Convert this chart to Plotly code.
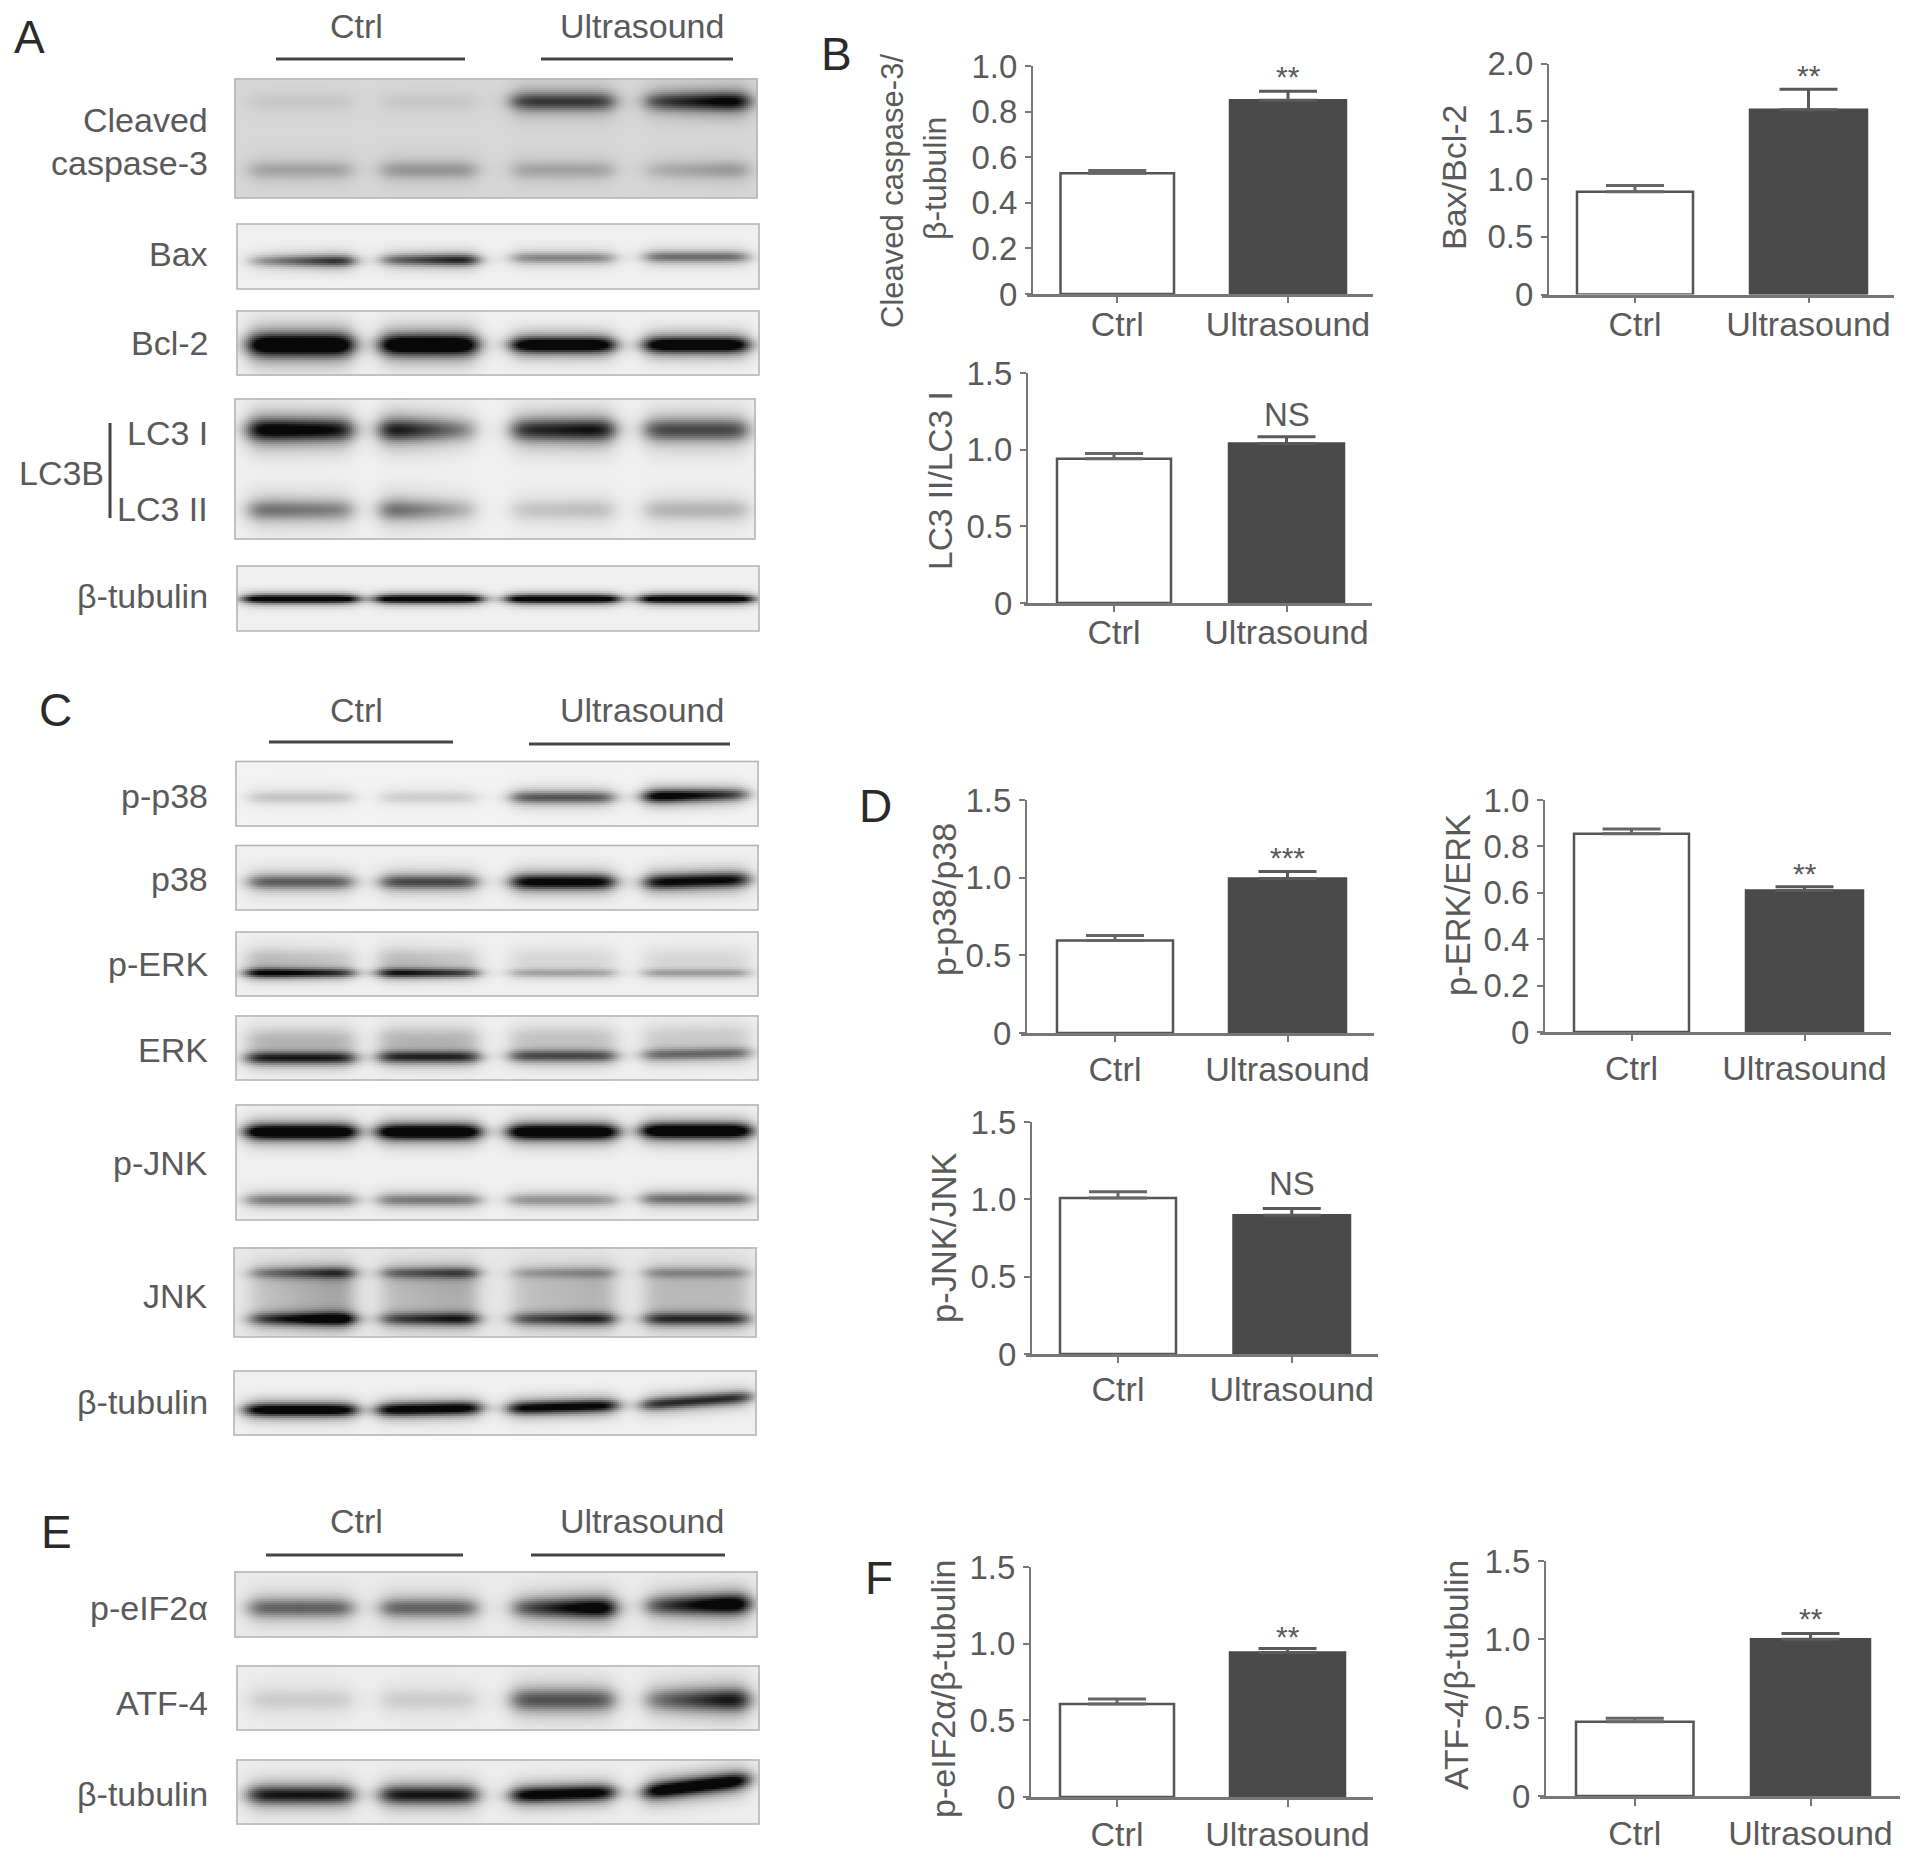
import numpy as np
import plotly.graph_objects as go

W, H = 1913, 1858
FONT = "Liberation Sans"
TXT = "#5a5a5a"

# ---------- bar chart data ----------
groups = ["Ctrl", "Ultrasound"]
panel_titles = [["Cleaved caspase-3/", "β-tubulin"], ["Bax/Bcl-2"], ["LC3 II/LC3 I"],
                ["p-p38/p38"], ["p-ERK/ERK"], ["p-JNK/JNK"],
                ["p-eIF2α/β-tubulin"], ["ATF-4/β-tubulin"]]
ctrl_values = [0.53, 0.89, 0.94, 0.595, 0.855, 1.008, 0.606, 0.474]
ultra_values = [0.85, 1.60, 1.04, 0.995, 0.61, 0.897, 0.942, 1.00]
ctrl_err = [0.012, 0.053, 0.035, 0.033, 0.02, 0.041, 0.033, 0.023]
ultra_err = [0.039, 0.177, 0.044, 0.045, 0.016, 0.043, 0.026, 0.037]
y_max = [1.0, 2.0, 1.5, 1.5, 1.0, 1.5, 1.5, 1.5]
y_ticks = [[0, 0.2, 0.4, 0.6, 0.8, 1.0], [0, 0.5, 1.0, 1.5, 2.0], [0, 0.5, 1.0, 1.5],
           [0, 0.5, 1.0, 1.5], [0, 0.2, 0.4, 0.6, 0.8, 1.0], [0, 0.5, 1.0, 1.5],
           [0, 0.5, 1.0, 1.5], [0, 0.5, 1.0, 1.5]]
significance = ["**", "**", "NS", "***", "**", "NS", "**", "**"]

# panel geometry in page pixels: axis x, x-line start, x-line end, top, zero, ctrl bar, ultra bar
panel_geom = [
    (1032, 1027, 1373, 66, 294, (1060.5, 1174), (1230, 1346)),
    (1548, 1542, 1894, 63.5, 294.5, (1577, 1693), (1750, 1867)),
    (1027, 1024, 1372, 373, 603, (1057, 1171), (1229, 1344)),
    (1026, 1021, 1374, 800, 1033, (1057, 1173), (1229, 1346)),
    (1544, 1539.5, 1891, 800, 1032, (1574, 1689), (1746, 1863)),
    (1031, 1026, 1378, 1122, 1354, (1060, 1176), (1233.5, 1350)),
    (1030, 1026, 1373, 1567, 1797, (1060, 1174), (1230, 1345)),
    (1545, 1539.5, 1899.5, 1561, 1796, (1576, 1693.5), (1751, 1870)),
]
x_tick_len = [6, 6, 6, 6, 6, 6, 7, 7]
x_label_standoff = [-8, -8, -9, -2, -2, -3, -2, -2]
title_geom = [[(892, 191), (935, 179)], [(1454, 177)], [(940, 481)], [(944, 900)],
              [(1458, 905)], [(944, 1238)], [(943, 1689)], [(1456, 1675)]]
title_size = [[31, 32], [34], [33.5], [34], [34.5], [34.5], [34], [33.7]]
sig_y = [76, 75, 414, 857, 874, 1183, 1636, 1618]

# ---------- western blot data ----------
blot_labels = ["Cleaved caspase-3", "Bax", "Bcl-2", "LC3B", "β-tubulin",
               "p-p38", "p38", "p-ERK", "ERK", "p-JNK", "JNK", "β-tubulin",
               "p-eIF2α", "ATF-4", "β-tubulin"]
# box: left, top, right, bottom
blot_boxes = [(235, 79, 757, 198), (237, 224, 759, 289), (237, 311, 759, 375),
              (235, 399, 755, 539), (237, 566, 759, 631),
              (236, 761.5, 758, 826), (236, 845.6, 758, 910), (236, 932, 758, 996),
              (236, 1016, 758, 1080), (236, 1105, 758, 1220), (234, 1248, 756, 1337),
              (234, 1371, 756, 1435),
              (235, 1572, 757, 1637), (237, 1666, 759, 1730), (237, 1760, 759, 1824)]
blot_background = [0.12, 0.02, 0.02, 0.02, 0.02, 0.01, 0.02, 0.02, 0.02, 0.02, 0.05, 0.02, 0.04, 0.03, 0.03]
# per band: darkness in the four lanes
blot_band_darkness = [
    [[0.05, 0.05, 0.5, 0.6], [0.16, 0.2, 0.16, 0.16]],
    [[0.46, 0.56, 0.32, 0.4]],
    [[1.0, 1.0, 0.95, 0.95]],
    [[0.78, 0.52, 0.66, 0.52], [0.36, 0.3, 0.14, 0.18]],
    [[0.92, 0.92, 0.92, 0.92]],
    [[0.14, 0.11, 0.48, 0.72]],
    [[0.45, 0.52, 0.8, 0.76]],
    [[0.7, 0.62, 0.22, 0.24], [0.13, 0.13, 0.07, 0.07]],
    [[0.65, 0.62, 0.5, 0.4], [0.16, 0.16, 0.12, 0.1]],
    [[1.0, 1.0, 1.0, 1.0], [0.36, 0.36, 0.28, 0.4]],
    [[0.42, 0.42, 0.22, 0.24], [0.72, 0.56, 0.52, 0.56], [0.16, 0.16, 0.14, 0.14]],
    [[0.88, 0.85, 0.8, 0.62]],
    [[0.42, 0.42, 0.68, 0.72]],
    [[0.1, 0.1, 0.48, 0.55]],
    [[0.68, 0.68, 0.82, 0.9]],
]
# per band: vertical centre below the box top, vertical spread
blot_band_y = [[(22.6, 8), (91, 8)], [(35, 5)], [(34, 8.5)], [(31, 10), (111, 9.5)], [(33, 3.5)],
               [(35.5, 5.5)], [(36, 6.5)], [(41, 4), (26, 9)], [(41, 5.5), (22, 10)],
               [(27, 6.5), (95, 5.5)], [(25, 5), (71, 5.5), (45, 20)], [(39, 5.5)],
               [(36, 8.5)], [(34, 10)], [(35, 8)]]
# vertical drift of each lane
blot_lane_drift = [[0, 0, 0, 0], [2, 1, -1, -2], [0, 0, 0, 0], [0, 0, 0, 0], [0, 0, 0, 0],
                   [0, 0, 0, -2], [0, 0, 0, -1], [0, 0, 0, 0], [1, 0, -1, -3], [0, 0, 0, -1],
                   [0, 0, 0, 0], [0, -1, -3, -9], [0, 0, 0, -3], [0, 0, 0, 0], [0, 0, -1, -9]]
# left-to-right darkening inside each lane
blot_lane_fade = [[0, 0, 0, 0.3], [0.5, 0.3, 0, 0], [0, 0, 0, 0], [-0.1, -0.5, 0.1, 0], [0, 0, 0, 0],
                  [0, 0, 0, -0.3], [0, 0, 0, 0], [-0.2, -0.2, 0, 0], [0, 0, 0, 0], [0, 0, 0, 0],
                  [0.4, 0.2, 0.2, 0], [0, 0, 0, 0], [0, 0, 0.4, 0.4], [0, 0, 0, 0.4], [0, 0, 0, 0]]
# rise of a band across its lane
blot_lane_slant = [[0, 0, 0, 0], [0, 0, 0, 0], [0, 0, 0, 0], [0, 0, 0, 0], [0, 0, 0, 0],
                   [0, 0, 0, 2], [0, 0, 0, 3], [0, 0, 0, 0], [0, 0, 0, 2], [0, 0, 0, 0],
                   [0, 0, 0, 0], [0, 2, 3, 8], [0, 0, 0, 2], [0, 0, 0, 0], [0, 0, 3, 12]]
# thickness factor per lane
blot_lane_thick = [[1, 1, 1, 1], [1, 1, 1, 1], [1.15, 1.05, 0.8, 0.8], [1, 1, 1, 1], [1, 1, 1, 1],
                   [1, 1, 1, 1], [1, 1, 1, 1], [1, 1, 1, 1], [1, 1, 1, 1], [1, 1, 1, 1],
                   [1, 1, 1, 1], [1, 1, 1, 1], [1, 1, 1, 1], [1, 1, 1, 1], [1, 1, 0.85, 0.9]]
blot_lane_widen = [0, 0, 0, 0, 5, 0, 0, 2, 2, 3, 0, 3, 0, 0, 0]
lane_spans = [(250, 352), (382, 476), (513, 613), (646, 747)]

headers_y = [26, 710, 1521]
header_lines = [[(276, 465, 59), (541, 733, 59)], [(269, 453, 742), (529, 730, 744)],
                [(266, 463, 1555), (531, 725, 1555)]]
side_labels = [("Cleaved", 120.5), ("caspase-3", 163), ("Bax", 254), ("Bcl-2", 343),
               ("LC3 I", 433), ("LC3 II", 509), ("β-tubulin", 596.5),
               ("p-p38", 795.5), ("p38", 879), ("p-ERK", 964), ("ERK", 1050), ("p-JNK", 1163),
               ("JNK", 1295.5), ("β-tubulin", 1401.5), ("p-eIF2α", 1608), ("ATF-4", 1703), ("β-tubulin", 1794)]
panel_letters = [("A", 29, 37), ("B", 836, 54), ("C", 55, 710), ("D", 875, 806), ("E", 56, 1532), ("F", 879, 1578)]

fig = go.Figure()
shapes, annos = [], []


def fx(px):
    return px / W


def fy(py):
    return 1 - py / H


def text(t, px, py, size=34, xa="center", color=TXT, angle=0):
    annos.append(dict(text=t, xref="paper", yref="paper", x=fx(px), y=fy(py), xanchor=xa, yanchor="middle",
                      showarrow=False, textangle=angle, font=dict(family=FONT, size=size, color=color)))


def blot_image(i):
    l, t, r, b = blot_boxes[i]
    xs = np.arange(l, r + 1, 2.0)
    ys = np.arange(t, b + 1, 2.0)
    gx, gy = np.meshgrid(xs, ys)
    z = np.full(gx.shape, blot_background[i], dtype=float)
    wid = blot_lane_widen[i]
    for dark, (yc, sp) in zip(blot_band_darkness[i], blot_band_y[i]):
        for k, (x0, x1) in enumerate(lane_spans):
            x0, x1 = x0 - wid, x1 + wid
            mid, half = (x0 + x1) / 2, (x1 - x0) / 2
            rel = (gx - mid) / half
            hor = 0.5 * (np.tanh((gx - x0) / 11) - np.tanh((gx - x1) / 11))
            s = sp * blot_lane_thick[i][k]
            dy = gy - t - yc - blot_lane_drift[i][k] + rel * blot_lane_slant[i][k] / 2
            ver = 0.72 * np.exp(-((dy / s) ** 2)) + 0.38 * np.exp(-((dy / (2.1 * s)) ** 2))
            fade = 1 + blot_lane_fade[i][k] * np.clip(rel, -1.2, 1.2)
            z += dark[k] * 1.25 * ver * hor * fade
    return xs, ys, np.round(np.clip(z, 0, 1), 3)


for i in range(len(blot_boxes)):
    xs, ys, z = blot_image(i)
    fig.add_trace(go.Heatmap(x=xs, y=ys, z=z, xaxis="x", yaxis="y", zmin=0, zmax=1, showscale=False,
                             hoverinfo="skip", colorscale=[[0, "#f5f5f5"], [0.5, "#7a7a7a"], [1, "#080808"]]))
    l, t, r, b = blot_boxes[i]
    shapes.append(dict(type="rect", xref="x", yref="y", x0=l, x1=r, y0=t, y1=b,
                       line=dict(color="#b4b4b4", width=1.5)))

layout_axes = dict(
    xaxis=dict(domain=[0, 1], range=[0, W], visible=False, fixedrange=True, automargin=False),
    yaxis=dict(domain=[0, 1], range=[H, 0], visible=False, fixedrange=True, automargin=False),
)

for p, geom in enumerate(panel_geom):
    ax, x0, x1, top, zero, c_bar, u_bar = geom
    c1, c2 = sum(c_bar) / 2, sum(u_bar) / 2
    d = c2 - c1
    n = p + 2
    xn, yn = f"x{n}", f"y{n}"
    for j, (val, err, bar, fill, line, ec) in enumerate([
        (ctrl_values[p], ctrl_err[p], c_bar, "#ffffff", "#555555", "#666666"),
        (ultra_values[p], ultra_err[p], u_bar, "#4a4a4a", "#4a4a4a", "#5a5a5a"),
    ]):
        fig.add_trace(go.Bar(x=[groups[j]], y=[val], width=[(bar[1] - bar[0]) / d], xaxis=xn, yaxis=yn,
                             marker=dict(color=fill, line=dict(color=line, width=2.5)), showlegend=False,
                             error_y=dict(type="data", symmetric=False, array=[err], arrayminus=[0],
                                          color=ec, thickness=3, width=29)))
    layout_axes[f"xaxis{n}"] = dict(
        domain=[fx(x0), fx(x1)], range=[(x0 - c1) / d, (x1 - c1) / d], type="category",
        categoryorder="array", categoryarray=groups, anchor=yn, showgrid=False, zeroline=False, automargin=False,
        showline=True, linecolor="#777777", linewidth=2.5, ticks="outside", ticklen=x_tick_len[p], tickwidth=2,
        tickcolor="#777777", tickfont=dict(family=FONT, size=34, color=TXT),
        ticklabelstandoff=x_label_standoff[p], fixedrange=True)
    layout_axes[f"yaxis{n}"] = dict(
        domain=[fy(zero), fy(top)], range=[0, y_max[p]], anchor="free", position=fx(ax), showgrid=False,
        zeroline=False, showline=True, linecolor="#777777", linewidth=2, ticks="outside", ticklen=6, tickwidth=2,
        tickcolor="#777777", tickmode="array", tickvals=y_ticks[p], automargin=False,
        ticktext=["0" if v == 0 else f"{v:.1f}" for v in y_ticks[p]],
        tickfont=dict(family=FONT, size=33, color=TXT), ticklabelstandoff=1, fixedrange=True)
    for t, (tx, ty), ts in zip(panel_titles[p], title_geom[p], title_size[p]):
        text(t, tx, ty, size=ts, angle=-90)
    s = significance[p]
    text(s, c2, sig_y[p], size=33 if s == "NS" else 30)

for lbl, ly in side_labels:
    text(lbl, 209.5, ly, xa="right")
text("LC3B", 106, 473, xa="right")
shapes.append(dict(type="line", xref="x", yref="y", x0=110, x1=110, y0=423, y1=518,
                   line=dict(color="#444444", width=3)))
for hy, lines in zip(headers_y, header_lines):
    text(groups[0], 356, hy)
    text(groups[1], 642, hy)
    for (a, b, ly) in lines:
        shapes.append(dict(type="line", xref="x", yref="y", x0=a, x1=b, y0=ly, y1=ly,
                           line=dict(color="#444444", width=3)))
for t, lx, ly in panel_letters:
    text(t, lx, ly, size=46, color="#2a2a2a")

fig.update_layout(width=W, height=H, margin=dict(l=0, r=0, t=0, b=0), paper_bgcolor="white",
                  plot_bgcolor="rgba(0,0,0,0)", barmode="overlay", showlegend=False,
                  shapes=shapes, annotations=annos, **layout_axes)
fig.write_html("out.html", config=dict(displayModeBar=False),
               post_script="document.body.style.margin='0';document.body.style.overflow='hidden';")
